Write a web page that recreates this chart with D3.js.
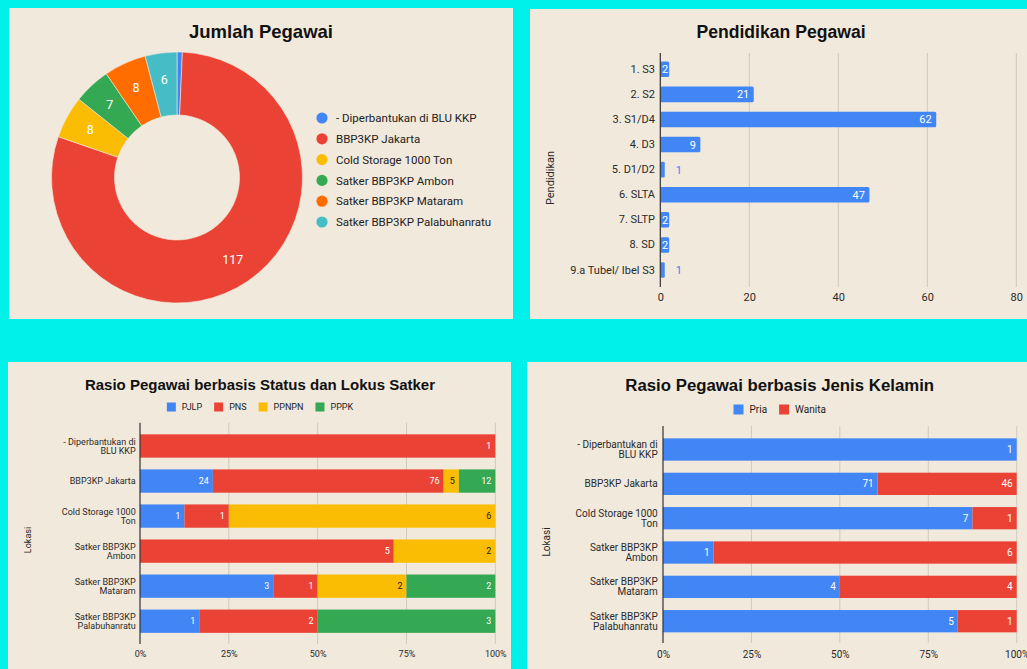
<!DOCTYPE html>
<html>
<head>
<meta charset="utf-8">
<script src="https://cdn.jsdelivr.net/npm/d3@7"></script>
<style>
  html, body { margin: 0; padding: 0; background: #00F1E9; }
  svg { display: block; }
  text { font-family: Roboto, "Liberation Sans", Arial, sans-serif; }
  .title { font-family: "Liberation Sans", Arial, sans-serif; font-weight: bold; fill: #111; }
</style>
</head>
<body>
<svg id="chart" width="1027" height="669"></svg>
<script>
// ---------------- DATA ----------------
const lokasi = ["- Diperbantukan di BLU KKP", "BBP3KP Jakarta", "Cold Storage 1000 Ton",
  "Satker BBP3KP Ambon", "Satker BBP3KP Mataram", "Satker BBP3KP Palabuhanratu"];
const jumlahPegawai = [1, 117, 8, 7, 8, 6];

const pendidikan = ["1. S3", "2. S2", "3. S1/D4", "4. D3", "5. D1/D2", "6. SLTA", "7. SLTP", "8. SD", "9.a Tubel/ Ibel S3"];
const pendidikanValues = [2, 21, 62, 9, 1, 47, 2, 2, 1];
const pendidikanTicks = [0, 20, 40, 60, 80];

const statusSeries = ["PJLP", "PNS", "PPNPN", "PPPK"];
const pjlp  = [0, 24, 1, 0, 3, 1];
const pns   = [1, 76, 1, 5, 1, 2];
const ppnpn = [0, 5, 6, 2, 2, 0];
const pppk  = [0, 12, 0, 0, 2, 3];

const genderSeries = ["Pria", "Wanita"];
const pria   = [1, 71, 7, 1, 4, 5];
const wanita = [0, 46, 1, 6, 4, 1];

const pctTicks = [0, 0.25, 0.5, 0.75, 1];

// ---------------- STYLE ----------------
const C = { blue: "#4285F4", red: "#EA4335", yellow: "#FBBC04", green: "#34A853", orange: "#FF6D01", cyan: "#46BDC6" };
const pieColors = [C.blue, C.red, C.yellow, C.green, C.orange, C.cyan];
const panelBg = "#F1E9DC";
const gridColor = "#CFCAC0";
const axisColor = "#333";
const labelColor = "#2a2a2a";

const svg = d3.select("#chart");
svg.append("rect").attr("width", 1027).attr("height", 669).attr("fill", "#00F1E9");

const panels = [
  { x: 9, y: 8, w: 504, h: 311 },
  { x: 530, y: 9, w: 497, h: 310 },
  { x: 8, y: 362, w: 503, h: 307 },
  { x: 527, y: 362, w: 500, h: 307 }
];
panels.forEach(p => svg.append("rect").attr("x", p.x).attr("y", p.y).attr("width", p.w).attr("height", p.h).attr("fill", panelBg));

// wrap helper
function wrapLabel(sel, text, maxW, fs, lh) {
  const words = text.split(" ");
  const lines = [];
  let cur = [];
  const probe = svg.append("text").attr("font-size", fs);
  words.forEach(w => {
    const t = cur.concat([w]).join(" ");
    probe.text(t);
    if (probe.node().getComputedTextLength() > maxW && cur.length) {
      lines.push(cur.join(" "));
      cur = [w];
    } else cur.push(w);
  });
  lines.push(cur.join(" "));
  probe.remove();
  const n = lines.length;
  lines.forEach((l, i) => {
    sel.append("tspan").attr("x", 0).attr("y", (i - (n - 1) / 2) * lh + 0.35 * fs).text(l);
  });
}

// ================= 1. DONUT =================
{
  const g = svg.append("g");
  g.append("text").attr("class", "title").attr("x", 261).attr("y", 38).attr("text-anchor", "middle")
    .attr("font-size", 18.5).text("Jumlah Pegawai");
  const cx = 177, cy = 177.5, R = 125.5, r = 62.5;
  const pie = d3.pie().sort(null).value(d => d);
  const arcs = pie(jumlahPegawai);
  const arc = d3.arc().innerRadius(r).outerRadius(R);
  const dg = g.append("g").attr("transform", `translate(${cx},${cy})`);
  dg.selectAll("path").data(arcs).join("path")
    .attr("d", arc).attr("fill", (d, i) => pieColors[i]).attr("stroke", panelBg).attr("stroke-width", 0.6);
  const labelArc = d3.arc().innerRadius(99).outerRadius(99);
  dg.selectAll("text").data(arcs.filter(d => d.value >= 3)).join("text")
    .attr("transform", d => `translate(${labelArc.centroid(d)})`)
    .attr("text-anchor", "middle").attr("dy", "0.36em")
    .attr("font-size", 12.5).attr("fill", "#fff").text(d => d.value);
  // legend
  const lg = g.append("g");
  lokasi.forEach((name, i) => {
    const y = 118 + i * 20.8;
    lg.append("circle").attr("cx", 322).attr("cy", y).attr("r", 5.6).attr("fill", pieColors[i]);
    lg.append("text").attr("x", 336).attr("y", y).attr("dy", "0.36em").attr("font-size", 11.5)
      .attr("fill", "#222").text(name);
  });
}

// ================= 2. PENDIDIKAN BAR =================
{
  const g = svg.append("g");
  g.append("text").attr("class", "title").attr("x", 781).attr("y", 38).attr("text-anchor", "middle")
    .attr("font-size", 17.6).text("Pendidikan Pegawai");
  const x = d3.scaleLinear().domain([0, 80]).range([660.3, 1016.3]);
  const step = 25.1;
  const y = d3.scaleBand().domain(pendidikan).range([69.3 - step / 2, 270 + step / 2]).paddingInner(0.38).paddingOuter(0.19);
  const top = 53, bottom = 287;
  g.selectAll("line.grid").data(pendidikanTicks.slice(1)).join("line").attr("class", "grid")
    .attr("x1", d => x(d)).attr("x2", d => x(d)).attr("y1", top).attr("y2", bottom)
    .attr("stroke", gridColor).attr("stroke-width", 1);
  const xAxis = d3.axisBottom(x).tickValues(pendidikanTicks).tickSize(0).tickPadding(0);
  const ax = g.append("g").attr("transform", `translate(0,${bottom + 6})`).call(xAxis);
  ax.select(".domain").remove();
  ax.selectAll("text").attr("font-size", 11).attr("fill", labelColor).attr("font-family", "Roboto, sans-serif");
  g.selectAll("rect.bar").data(pendidikanValues).join("rect").attr("class", "bar")
    .attr("x", x(0)).attr("y", (d, i) => y(pendidikan[i]))
    .attr("width", d => x(d) - x(0)).attr("height", y.bandwidth())
    .attr("rx", 1.5).attr("fill", C.blue);
  g.append("line").attr("x1", x(0)).attr("x2", x(0)).attr("y1", top).attr("y2", bottom)
    .attr("stroke", axisColor).attr("stroke-width", 1.2);
  const yAxis = d3.axisLeft(y).tickSize(0).tickPadding(0);
  const ay = g.append("g").attr("transform", `translate(655,0)`).call(yAxis);
  ay.select(".domain").remove();
  ay.selectAll("text").attr("font-size", 11).attr("fill", labelColor).attr("font-family", "Roboto, sans-serif");
  pendidikanValues.forEach((v, i) => {
    const yc = y(pendidikan[i]) + y.bandwidth() / 2;
    const t = g.append("text").attr("y", yc).attr("dy", "0.36em").attr("font-size", 11).text(v);
    if (v >= 5) t.attr("x", x(v) - 4.5).attr("text-anchor", "end").attr("fill", "#fff");
    else if (v >= 2) t.attr("x", (x(0) + x(v)) / 2 + 0.3).attr("text-anchor", "middle").attr("fill", "#fff");
    else t.attr("x", x(v) + 11).attr("text-anchor", "start").attr("fill", C.blue);
  });
  g.append("text").attr("transform", `translate(554,178) rotate(-90)`).attr("text-anchor", "middle")
    .attr("font-size", 11).attr("fill", labelColor).text("Pendidikan");
}

// ================= stacked 100% helper =================
function stacked(opts) {
  const { title, titleX, titleY, titleSize, series, colors, values, legendY, legendFs, sq, x0, x1,
    c1, c6, bandH, top, bottom, labelRight, fs, lokasiX, lokasiY, tickY, tickFs } = opts;
  const g = svg.append("g");
  g.append("text").attr("class", "title").attr("x", titleX).attr("y", titleY).attr("text-anchor", "middle")
    .attr("font-size", titleSize).text(title);

  const lg = g.append("g");
  let cx = 0;
  series.forEach((s, i) => {
    const item = lg.append("g").attr("transform", `translate(${cx},0)`);
    item.append("rect").attr("x", 0).attr("y", -sq / 2).attr("width", sq).attr("height", sq).attr("fill", colors[i]);
    const t = item.append("text").attr("x", sq + 6).attr("dy", "0.36em").attr("font-size", legendFs)
      .attr("fill", "#222").text(s);
    cx += sq + 6 + t.node().getComputedTextLength() + 12;
  });
  const lw = cx - 12;
  lg.attr("transform", `translate(${titleX - lw / 2},${legendY})`);

  const rows = lokasi.map((l, i) => {
    const o = { lokasi: l };
    series.forEach((s, k) => o[s] = values[k][i]);
    return o;
  });
  const stack = d3.stack().keys(series).offset(d3.stackOffsetExpand);
  const layers = stack(rows);
  const x = d3.scaleLinear().domain([0, 1]).range([x0, x1]);
  const step = (c6 - c1) / 5;
  const pi = 1 - bandH / step;
  const y = d3.scaleBand().domain(lokasi).range([c1 - step / 2, c6 + step / 2]).paddingInner(pi).paddingOuter(pi / 2);

  g.selectAll("line.grid").data(pctTicks.slice(1)).join("line").attr("class", "grid")
    .attr("x1", d => x(d)).attr("x2", d => x(d)).attr("y1", top).attr("y2", bottom)
    .attr("stroke", gridColor).attr("stroke-width", 1);

  const xAxis = d3.axisBottom(x).tickValues(pctTicks).tickFormat(d3.format(".0%")).tickSize(0).tickPadding(0);
  const ax = g.append("g").attr("transform", `translate(0,${tickY})`).call(xAxis);
  ax.select(".domain").remove();
  ax.selectAll("text").attr("font-size", tickFs).attr("fill", labelColor).attr("font-family", "Roboto, sans-serif").attr("dy", "0.36em");

  layers.forEach((layer, k) => {
    const lg2 = g.append("g");
    layer.forEach((d, i) => {
      const v = values[k][i];
      if (!v) return;
      const yy = y(lokasi[i]);
      lg2.append("rect").attr("x", x(d[0])).attr("y", yy).attr("width", x(d[1]) - x(d[0]))
        .attr("height", y.bandwidth()).attr("fill", colors[k]);
      lg2.append("text").attr("x", x(d[1]) - 4).attr("y", yy + y.bandwidth() / 2).attr("dy", "0.36em")
        .attr("text-anchor", "end").attr("font-size", fs)
        .attr("fill", colors[k] === C.yellow ? "#222" : "#fff").text(v);
    });
  });

  g.append("line").attr("x1", x(0)).attr("x2", x(0)).attr("y1", top).attr("y2", bottom)
    .attr("stroke", axisColor).attr("stroke-width", 1.2);

  lokasi.forEach((l, i) => {
    const t = g.append("text").attr("transform", `translate(${labelRight},${y(l) + y.bandwidth() / 2})`)
      .attr("text-anchor", "end").attr("font-size", fs).attr("fill", labelColor);
    wrapLabel(t, l, fs * 9.3, fs, fs * 1.02);
  });

  g.append("text").attr("transform", `translate(${lokasiX},${lokasiY}) rotate(-90)`).attr("text-anchor", "middle")
    .attr("font-size", fs).attr("fill", labelColor).text("Lokasi");
}

// ================= 3. STATUS =================
stacked({
  title: "Rasio Pegawai berbasis Status dan Lokus Satker", titleX: 260, titleY: 390, titleSize: 15,
  series: statusSeries, colors: [C.blue, C.red, C.yellow, C.green], values: [pjlp, pns, ppnpn, pppk],
  legendY: 407, legendFs: 9, sq: 9,
  x0: 140, x1: 495.3, c1: 446, c6: 621.2, bandH: 23.3, top: 422.7, bottom: 644,
  labelRight: 135.7, fs: 9, lokasiX: 31, lokasiY: 540, tickY: 653.5, tickFs: 9
});

// ================= 4. GENDER =================
stacked({
  title: "Rasio Pegawai berbasis Jenis Kelamin", titleX: 779.7, titleY: 391, titleSize: 16.8,
  series: genderSeries, colors: [C.blue, C.red], values: [pria, wanita],
  legendY: 409.5, legendFs: 10, sq: 10,
  x0: 663, x1: 1016.7, c1: 449.5, c6: 621.2, bandH: 22.3, top: 426, bottom: 643,
  labelRight: 657.7, fs: 10, lokasiX: 550, lokasiY: 542, tickY: 654, tickFs: 10
});
</script>
</body>
</html>
